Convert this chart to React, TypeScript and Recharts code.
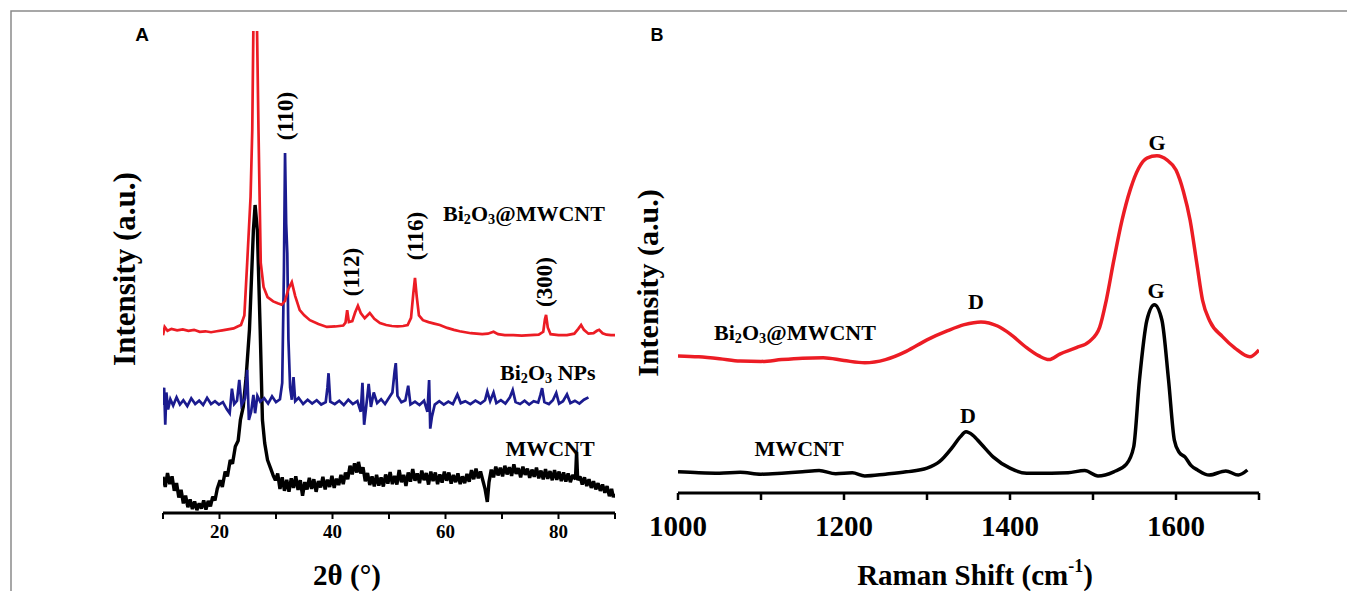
import { LineChart, Line, XAxis, YAxis } from 'recharts';

// XRD patterns, panel A (2θ in degrees, intensity in a.u.)
const xrdComposite: [number, number][] = [
  [10.0, 36.9], [10.3, 38.6], [10.8, 37.8], [11.5, 38.2], [12.5, 37.9], [13.5, 38.1], [14.5, 37.8],
  [15.5, 38.0], [16.5, 37.6], [17.5, 37.7], [18.5, 37.5], [19.5, 37.7], [20.5, 37.9], [21.5, 38.1],
  [22.5, 38.3], [23.2, 38.7], [23.8, 39.0], [24.4, 41.0], [24.9, 51.9], [25.5, 65.6], [25.8, 79.5],
  [26.1, 112], [26.5, 112], [26.9, 79.5], [27.1, 65.6], [27.3, 51.9], [27.8, 46.9], [28.5, 44.8],
  [29.5, 43.9], [30.3, 43.5], [31.0, 43.2], [31.6, 44.0], [32.2, 46.5], [32.8, 47.9], [33.4, 45.0],
  [34.2, 42.1], [35.0, 41.0], [36.0, 40.0], [37.5, 39.2], [39.0, 38.6], [40.5, 38.7], [41.9, 38.9],
  [42.3, 39.5], [42.6, 42.1], [42.9, 39.6], [43.5, 39.8], [44.0, 41.6], [44.5, 43.0], [45.0, 41.5],
  [45.7, 40.4], [46.6, 41.5], [47.4, 40.3], [48.4, 39.4], [49.5, 39.0], [50.5, 38.8], [51.5, 38.7],
  [52.5, 38.8], [53.3, 39.0], [53.9, 40.5], [54.3, 45.5], [54.6, 48.8], [54.9, 45.0], [55.3, 41.0],
  [56.0, 40.0], [57.0, 39.6], [58.0, 39.3], [59.0, 39.0], [60.3, 38.4], [61.5, 38.0], [62.5, 37.7],
  [63.5, 37.5], [64.5, 37.3], [65.5, 37.2], [66.5, 37.1], [67.5, 37.2], [68.5, 37.6], [69.3, 37.1],
  [70.5, 36.9], [72.0, 36.9], [73.5, 36.8], [75.0, 36.9], [76.5, 37.0], [77.3, 37.6], [77.6, 40.2],
  [77.8, 41.1], [78.1, 38.5], [78.6, 37.1], [80.0, 36.9], [81.5, 36.9], [82.8, 37.2], [83.5, 38.2],
  [84.0, 39.0], [84.5, 38.0], [85.3, 37.2], [86.2, 37.3], [86.8, 37.8], [87.2, 38.0], [87.8, 37.3],
  [88.5, 37.0], [89.3, 36.9], [90.0, 36.9],
];

const xrdBi2O3: [number, number][] = [
  [10.0, 22.4], [10.2, 26.0], [10.4, 18.3], [10.6, 25.0], [10.9, 21.5], [11.3, 23.6], [11.8, 22.3],
  [12.4, 24.0], [13.0, 22.5], [13.6, 23.4], [14.3, 22.2], [15.0, 23.8], [15.7, 22.6], [16.4, 23.3],
  [17.1, 22.4], [17.8, 23.9], [18.5, 22.6], [19.2, 23.2], [19.9, 22.5], [20.6, 23.0], [21.3, 21.5],
  [21.8, 20.7], [22.2, 25.8], [22.6, 22.6], [23.1, 23.3], [23.5, 27.6], [23.9, 22.4], [24.5, 23.8],
  [24.9, 29.7], [25.2, 19.3], [25.6, 21.0], [26.0, 24.5], [26.3, 20.7], [26.7, 24.3], [27.2, 23.1],
  [27.9, 23.8], [28.6, 22.7], [29.3, 24.2], [30.0, 23.0], [30.7, 23.6], [31.1, 27.0], [31.4, 50.0],
  [31.6, 74.7], [31.8, 60.0], [32.0, 53.9], [32.2, 36.0], [32.5, 26.0], [32.8, 23.5], [33.1, 28.2],
  [33.4, 23.2], [34.0, 23.9], [34.8, 22.6], [35.6, 23.5], [36.4, 22.7], [37.2, 23.4], [38.0, 22.5],
  [38.8, 23.0], [39.1, 26.0], [39.3, 29.0], [39.6, 23.1], [40.4, 22.6], [41.2, 23.3], [42.0, 22.4],
  [42.8, 23.5], [43.6, 22.6], [44.4, 23.2], [45.0, 21.0], [45.3, 27.0], [45.6, 18.3], [45.9, 21.4],
  [46.4, 26.8], [46.8, 22.0], [47.3, 25.0], [47.9, 22.8], [48.6, 23.6], [49.3, 22.6], [50.0, 23.9],
  [50.6, 25.0], [51.0, 29.5], [51.2, 31.1], [51.5, 24.3], [52.2, 23.0], [52.9, 23.4], [53.4, 26.4],
  [53.8, 22.5], [54.6, 23.1], [55.4, 22.4], [56.2, 23.3], [56.8, 21.0], [57.1, 27.6], [57.3, 17.5],
  [57.6, 20.0], [58.1, 22.5], [58.9, 23.2], [59.7, 22.5], [60.5, 23.1], [61.3, 22.6], [62.1, 24.6],
  [62.7, 22.8], [63.5, 23.2], [64.4, 22.6], [65.3, 23.3], [66.2, 22.7], [67.0, 23.4], [67.4, 25.2],
  [67.9, 23.2], [68.5, 25.0], [69.0, 22.8], [69.8, 23.4], [70.6, 22.7], [71.4, 24.0], [71.9, 25.5],
  [72.4, 23.0], [73.2, 22.6], [74.0, 23.3], [74.8, 22.5], [75.6, 23.2], [76.4, 22.9], [76.8, 24.5],
  [77.1, 25.9], [77.5, 23.0], [78.3, 22.6], [79.0, 23.4], [79.6, 24.9], [80.1, 22.7], [80.8, 23.2],
  [81.5, 24.6], [82.1, 22.8], [82.9, 23.3], [83.7, 22.7], [84.5, 23.5], [85.3, 24.0],
];

const xrdMwcnt: [number, number][] = [
  [10.0, 7.5], [10.4, 5.4], [10.8, 8.3], [11.2, 6.0], [11.6, 7.6], [12.0, 4.6], [12.4, 6.2],
  [12.8, 3.2], [13.2, 4.8], [13.6, 2.0], [14.0, 3.6], [14.4, 1.2], [14.8, 2.8], [15.2, 0.8],
  [15.6, 2.4], [16.0, 0.6], [16.4, 2.0], [16.8, 0.9], [17.2, 2.6], [17.6, 0.7], [18.0, 2.5],
  [18.4, 1.4], [18.8, 3.4], [19.2, 2.6], [19.6, 5.0], [20.1, 6.8], [20.5, 5.4], [21.0, 8.6],
  [21.4, 7.6], [21.9, 11.0], [22.3, 10.2], [22.8, 13.8], [23.3, 15.0], [23.7, 19.3], [24.2, 22.0],
  [24.7, 28.0], [25.3, 38.0], [26.0, 58.7], [26.3, 63.9], [26.7, 58.7], [27.2, 38.0], [27.6, 19.3],
  [28.0, 14.5], [28.5, 11.0], [29.0, 9.4], [29.5, 7.8], [29.9, 6.8], [30.3, 8.2], [30.7, 5.0],
  [31.1, 7.4], [31.5, 4.6], [31.9, 6.9], [32.3, 4.4], [32.7, 7.2], [33.1, 5.2], [33.5, 7.6],
  [33.9, 4.8], [34.3, 6.8], [34.7, 3.6], [35.1, 6.4], [35.5, 4.9], [35.9, 7.3], [36.3, 5.0],
  [36.7, 7.0], [37.1, 4.4], [37.5, 6.6], [37.9, 5.3], [38.3, 7.5], [38.7, 4.9], [39.1, 6.9],
  [39.5, 5.4], [39.9, 7.7], [40.3, 5.2], [40.7, 7.1], [41.1, 5.8], [41.5, 7.9], [41.9, 6.0],
  [42.3, 8.4], [42.7, 7.0], [43.1, 9.8], [43.5, 8.0], [43.9, 10.3], [44.3, 8.4], [44.6, 10.6],
  [45.0, 8.2], [45.4, 9.5], [45.8, 6.6], [46.2, 8.3], [46.6, 5.8], [47.0, 7.6], [47.4, 5.5],
  [47.8, 7.9], [48.2, 5.7], [48.6, 7.4], [49.0, 5.5], [49.4, 8.0], [49.8, 6.1], [50.2, 8.5],
  [50.6, 6.0], [51.0, 7.7], [51.4, 5.9], [51.8, 8.9], [52.2, 6.4], [52.6, 7.9], [53.0, 5.6],
  [53.4, 8.4], [53.8, 6.5], [54.2, 9.1], [54.6, 6.7], [55.0, 8.2], [55.4, 6.2], [55.8, 8.8],
  [56.2, 6.8], [56.6, 8.3], [57.0, 5.9], [57.4, 8.6], [57.8, 6.6], [58.2, 8.4], [58.6, 6.0],
  [59.0, 8.0], [59.4, 6.3], [59.8, 8.6], [60.2, 6.7], [60.6, 8.4], [61.0, 6.1], [61.4, 7.9],
  [61.8, 6.4], [62.2, 8.2], [62.6, 6.0], [63.0, 7.6], [63.4, 6.2], [63.8, 8.1], [64.2, 6.5],
  [64.6, 8.9], [65.0, 7.0], [65.4, 9.2], [65.8, 7.2], [66.2, 8.6], [66.6, 6.8], [67.0, 5.0],
  [67.4, 2.3], [67.7, 6.4], [68.1, 9.0], [68.5, 7.4], [68.9, 9.6], [69.3, 7.8], [69.7, 9.4],
  [70.1, 7.6], [70.5, 9.8], [70.9, 8.0], [71.3, 9.5], [71.7, 7.7], [72.1, 10.1], [72.5, 8.1],
  [72.9, 9.3], [73.3, 7.4], [73.7, 9.6], [74.1, 7.9], [74.5, 9.2], [74.9, 7.3], [75.3, 9.0],
  [75.7, 7.5], [76.1, 9.4], [76.5, 7.2], [76.9, 8.8], [77.3, 7.0], [77.7, 9.1], [78.1, 7.1],
  [78.5, 8.7], [78.9, 6.8], [79.3, 8.9], [79.7, 6.9], [80.1, 8.6], [80.5, 6.6], [80.9, 8.4],
  [81.3, 6.5], [81.7, 8.2], [82.1, 6.4], [82.5, 7.9], [83.0, 7.0], [83.2, 12.7], [83.4, 6.8],
  [83.8, 7.6], [84.2, 5.9], [84.6, 7.4], [85.0, 5.6], [85.4, 7.0], [85.8, 5.2], [86.2, 6.6],
  [86.6, 4.9], [87.0, 6.2], [87.4, 4.6], [87.8, 5.9], [88.2, 4.2], [88.6, 5.6], [89.0, 3.5],
  [89.4, 5.0], [89.7, 3.3], [90.0, 4.0],
];

// Raman spectra, panel B (Raman shift in cm-1, intensity in a.u.)
const ramanComposite: [number, number][] = [
  [1000, 29.8], [1025, 29.6], [1050, 29.2], [1075, 28.7], [1100, 28.6], [1125, 29.0], [1150, 29.3],
  [1175, 29.4], [1200, 28.8], [1225, 28.3], [1250, 29.0], [1275, 30.8], [1300, 33.3], [1325, 35.3],
  [1345, 36.6], [1365, 37.2], [1385, 36.3], [1400, 34.6], [1420, 31.6], [1435, 29.8], [1447, 29.0],
  [1460, 30.2], [1480, 31.6], [1496, 33.0], [1508, 36.0], [1516, 41.9], [1525, 50.5], [1535, 59.3],
  [1545, 66.0], [1555, 70.6], [1565, 72.8], [1577, 73.3], [1589, 72.4], [1600, 70.2], [1609, 65.5],
  [1617, 59.3], [1625, 50.0], [1632, 41.9], [1641, 37.3], [1656, 34.0], [1671, 31.5], [1689, 29.6],
  [1700, 31.1],
];

const ramanMwcnt: [number, number][] = [
  [1000, 4.6], [1025, 4.4], [1050, 4.3], [1075, 4.5], [1100, 4.1], [1125, 4.3], [1150, 4.6],
  [1170, 4.9], [1190, 4.2], [1210, 4.4], [1225, 3.7], [1250, 4.1], [1275, 4.6], [1300, 5.4],
  [1315, 6.8], [1330, 9.8], [1340, 12.2], [1347, 13.3], [1355, 12.6], [1365, 10.7], [1380, 7.8],
  [1400, 5.4], [1420, 4.3], [1450, 4.3], [1470, 4.4], [1490, 4.9], [1506, 3.7], [1525, 4.6],
  [1540, 6.2], [1549, 10.0], [1556, 24.6], [1565, 37.6], [1574, 40.9], [1583, 37.6], [1591, 24.6],
  [1598, 11.5], [1604, 8.8], [1611, 7.8], [1618, 6.0], [1626, 5.0], [1640, 3.9], [1660, 4.8],
  [1675, 3.9], [1686, 5.0],
];

const xrdTicks = [10, 20, 30, 40, 50, 60, 70, 80, 90];
const xrdLabelled = [20, 40, 60, 80];
const ramanTicks = [1000, 1100, 1200, 1300, 1400, 1500, 1600, 1700];
const ramanLabelled = [1000, 1200, 1400, 1600];

const RED = '#ec1c24';
const NAVY = '#1b1b8f';
const SERIF = '"Liberation Serif", "Times New Roman", serif';

const toPts = (arr: [number, number][]) => arr.map(([x, y]) => ({ x, y }));

function Formula({ x, y, size, rest, anchor = 'start' }: { x: number; y: number; size: number; rest: string; anchor?: string }) {
  const sub = size * 0.65;
  const d = size * 0.28;
  return (
    <text x={x} y={y} fontSize={size} fontWeight={700} fontFamily={SERIF} textAnchor={anchor} dominantBaseline="central" fill="#000">
      Bi<tspan fontSize={sub} dy={d}>2</tspan><tspan dy={-d}>O</tspan><tspan fontSize={sub} dy={d}>3</tspan><tspan dy={-d}>{rest}</tspan>
    </text>
  );
}

function Rot({ x, y, size, children }: { x: number; y: number; size: number; children: string }) {
  return (
    <text x={x} y={y} transform={`rotate(-90 ${x} ${y})`} fontSize={size} fontWeight={700} fontFamily={SERIF} textAnchor="middle" dominantBaseline="central" fill="#000">
      {children}
    </text>
  );
}

function Txt({ x, y, size, children }: { x: number; y: number; size: number; children: React.ReactNode }) {
  return (
    <text x={x} y={y} fontSize={size} fontWeight={700} fontFamily={SERIF} textAnchor="middle" dominantBaseline="central" fill="#000">
      {children}
    </text>
  );
}

export default function App() {
  const tickA = { fill: '#000', fontSize: 19, fontWeight: 700, fontFamily: SERIF };
  const tickB = { fill: '#000', fontSize: 29, fontWeight: 700, fontFamily: SERIF };
  return (
    <div style={{ position: 'absolute', left: 0, top: 0, width: 1347, height: 591, background: '#fff', overflow: 'hidden' }}>
      <div style={{ position: 'absolute', left: 0, top: 0 }}>
        <LineChart width={640} height={591} margin={{ top: 31, right: 25, bottom: 0, left: 163 }}>
          <XAxis xAxisId="b" type="number" dataKey="x" domain={[10, 90]} ticks={xrdTicks} allowDataOverflow
            tickFormatter={(v) => (xrdLabelled.includes(v) ? String(v) : '')}
            height={78} tick={tickA} tickSize={6} tickMargin={6}
            axisLine={{ stroke: '#000', strokeWidth: 3 }} tickLine={{ stroke: '#000', strokeWidth: 2 }} />
          <XAxis xAxisId="t" orientation="top" type="number" dataKey="x" domain={[10, 90]} height={0}
            tick={false} tickLine={false} axisLine={{ stroke: '#000', strokeWidth: 2.5 }} />
          <YAxis yAxisId="l" type="number" domain={[0, 100]} allowDataOverflow width={0}
            tick={false} tickLine={false} axisLine={{ stroke: '#000', strokeWidth: 3 }} />
          <YAxis yAxisId="r" orientation="right" type="number" domain={[0, 100]} width={0}
            tick={false} tickLine={false} axisLine={{ stroke: '#000', strokeWidth: 2.5 }} />
          <Line xAxisId="b" yAxisId="l" data={toPts(xrdMwcnt)} dataKey="y" type="linear" stroke="#000" strokeWidth={3.4} strokeLinejoin="bevel" dot={false} isAnimationActive={false} />
          <Line xAxisId="b" yAxisId="l" data={toPts(xrdBi2O3)} dataKey="y" type="linear" stroke={NAVY} strokeWidth={2.7} dot={false} isAnimationActive={false} />
          <Line xAxisId="b" yAxisId="l" data={toPts(xrdComposite)} dataKey="y" type="linear" stroke={RED} strokeWidth={2.7} dot={false} isAnimationActive={false} />
        </LineChart>
      </div>
      <div style={{ position: 'absolute', left: 640, top: 0 }}>
        <LineChart width={707} height={591} margin={{ top: 33, right: 88, bottom: 0, left: 38 }}>
          <XAxis xAxisId="b" type="number" dataKey="x" domain={[1000, 1700]} ticks={ramanTicks} allowDataOverflow
            tickFormatter={(v) => (ramanLabelled.includes(v) ? String(v) : '')}
            height={98} tick={tickB} tickSize={7} tickMargin={15}
            axisLine={{ stroke: '#000', strokeWidth: 3 }} tickLine={{ stroke: '#000', strokeWidth: 2.5 }} />
          <XAxis xAxisId="t" orientation="top" type="number" dataKey="x" domain={[1000, 1700]} height={0}
            tick={false} tickLine={false} axisLine={{ stroke: '#222', strokeWidth: 3 }} />
          <YAxis yAxisId="l" type="number" domain={[0, 100]} allowDataOverflow width={0}
            tick={false} tickLine={false} axisLine={{ stroke: '#000', strokeWidth: 4 }} />
          <YAxis yAxisId="r" orientation="right" type="number" domain={[0, 100]} width={0}
            tick={false} tickLine={false} axisLine={{ stroke: '#000', strokeWidth: 3.5 }} />
          <Line xAxisId="b" yAxisId="l" data={toPts(ramanMwcnt)} dataKey="y" type="monotone" stroke="#000" strokeWidth={3.5} dot={false} isAnimationActive={false} />
          <Line xAxisId="b" yAxisId="l" data={toPts(ramanComposite)} dataKey="y" type="monotone" stroke={RED} strokeWidth={3.5} dot={false} isAnimationActive={false} />
        </LineChart>
      </div>
      <svg width={1347} height={591} style={{ position: 'absolute', left: 0, top: 0, pointerEvents: 'none' }}>
        <polyline points="11,591 11,11 1347,11" fill="none" stroke="#8a8a8a" strokeWidth={1.5} />
        <text x={142} y={34} fontSize={19} fontWeight={700} fontFamily='"Liberation Sans", Arial, sans-serif' textAnchor="middle" dominantBaseline="central">A</text>
        <text x={657} y={35} fontSize={18} fontWeight={700} fontFamily='"Liberation Sans", Arial, sans-serif' textAnchor="middle" dominantBaseline="central">B</text>

        {/* panel A */}
        <Rot x={124} y={269} size={31}>Intensity (a.u.)</Rot>
        <Txt x={347} y={575} size={29}>2θ (°)</Txt>
        <Rot x={285} y={116} size={23}>(110)</Rot>
        <Rot x={351} y={272} size={23}>(112)</Rot>
        <Rot x={415} y={236} size={23}>(116)</Rot>
        <Rot x={544} y={282} size={23}>(300)</Rot>
        <Formula x={443} y={213} size={22} rest="@MWCNT" />
        <Formula x={500} y={372} size={22} rest=" NPs" />
        <Txt x={550} y={448} size={22}>MWCNT</Txt>

        {/* panel B */}
        <Rot x={647} y={283} size={30}>Intensity (a.u.)</Rot>
        <Txt x={975} y={575} size={29}>
          Raman Shift (cm<tspan fontSize={18} dy={-9}>-1</tspan><tspan dy={9}>)</tspan>
        </Txt>
        <Txt x={1157} y={142} size={22}>G</Txt>
        <Txt x={1156} y={290} size={22}>G</Txt>
        <Txt x={976} y={301} size={22}>D</Txt>
        <Txt x={968} y={415} size={22}>D</Txt>
        <Formula x={714} y={332} size={22} rest="@MWCNT" />
        <Txt x={799} y={448} size={22}>MWCNT</Txt>
      </svg>
    </div>
  );
}
